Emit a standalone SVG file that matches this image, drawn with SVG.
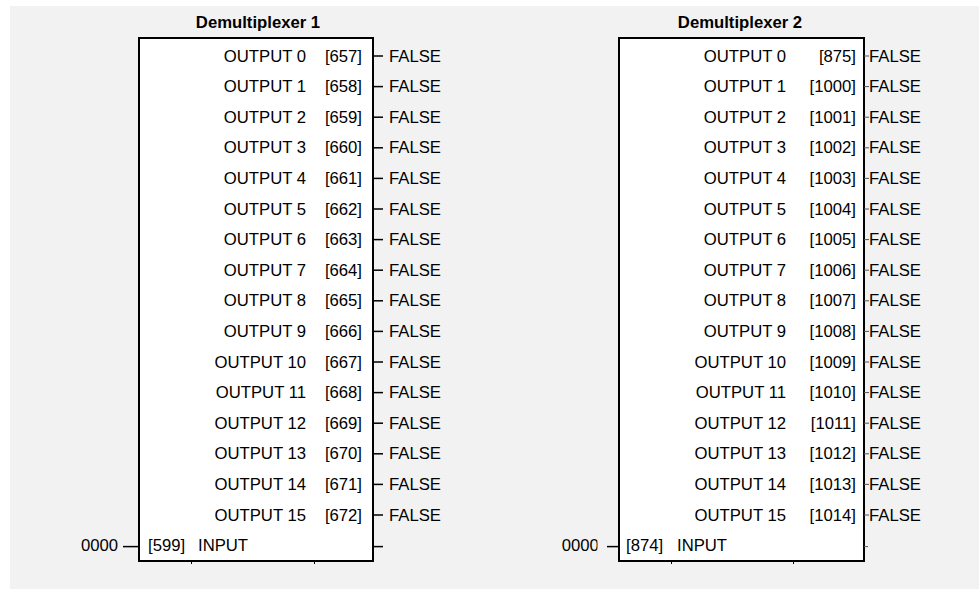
<svg xmlns="http://www.w3.org/2000/svg" width="979" height="589" viewBox="0 0 979 589">
<style>
text{font-family:"Liberation Sans",Arial,sans-serif;font-size:16.7px;fill:#000}
.t{font-weight:bold;text-anchor:middle}
.e{text-anchor:end}
.box{fill:#fff;stroke:#000;stroke-width:2}
.tk{stroke:#000;stroke-width:1.5}
.tk2{stroke:#555;stroke-width:1}
.bt{stroke:#000;stroke-width:1}
</style>
<defs>
<clipPath id="clip0"><rect x="540" y="530" width="57.5" height="30"/></clipPath>
</defs>
<rect x="10" y="6" width="969" height="583" fill="#f2f2f2"/>
<g id="demux1">
<rect class="box" x="139" y="38" width="234" height="523"/>
<text class="t" x="258" y="28">Demultiplexer 1</text>
<g class="lbl">
<text class="e" x="306" y="61.5">OUTPUT 0</text><text class="e" x="362" y="61.5">[657]</text><text x="389" y="61.5">FALSE</text>
<text class="e" x="306" y="92.1">OUTPUT 1</text><text class="e" x="362" y="92.1">[658]</text><text x="389" y="92.1">FALSE</text>
<text class="e" x="306" y="122.7">OUTPUT 2</text><text class="e" x="362" y="122.7">[659]</text><text x="389" y="122.7">FALSE</text>
<text class="e" x="306" y="153.3">OUTPUT 3</text><text class="e" x="362" y="153.3">[660]</text><text x="389" y="153.3">FALSE</text>
<text class="e" x="306" y="183.9">OUTPUT 4</text><text class="e" x="362" y="183.9">[661]</text><text x="389" y="183.9">FALSE</text>
<text class="e" x="306" y="214.5">OUTPUT 5</text><text class="e" x="362" y="214.5">[662]</text><text x="389" y="214.5">FALSE</text>
<text class="e" x="306" y="245.1">OUTPUT 6</text><text class="e" x="362" y="245.1">[663]</text><text x="389" y="245.1">FALSE</text>
<text class="e" x="306" y="275.7">OUTPUT 7</text><text class="e" x="362" y="275.7">[664]</text><text x="389" y="275.7">FALSE</text>
<text class="e" x="306" y="306.3">OUTPUT 8</text><text class="e" x="362" y="306.3">[665]</text><text x="389" y="306.3">FALSE</text>
<text class="e" x="306" y="336.9">OUTPUT 9</text><text class="e" x="362" y="336.9">[666]</text><text x="389" y="336.9">FALSE</text>
<text class="e" x="306" y="367.5">OUTPUT 10</text><text class="e" x="362" y="367.5">[667]</text><text x="389" y="367.5">FALSE</text>
<text class="e" x="306" y="398.1">OUTPUT 11</text><text class="e" x="362" y="398.1">[668]</text><text x="389" y="398.1">FALSE</text>
<text class="e" x="306" y="428.7">OUTPUT 12</text><text class="e" x="362" y="428.7">[669]</text><text x="389" y="428.7">FALSE</text>
<text class="e" x="306" y="459.3">OUTPUT 13</text><text class="e" x="362" y="459.3">[670]</text><text x="389" y="459.3">FALSE</text>
<text class="e" x="306" y="489.9">OUTPUT 14</text><text class="e" x="362" y="489.9">[671]</text><text x="389" y="489.9">FALSE</text>
<text class="e" x="306" y="520.5">OUTPUT 15</text><text class="e" x="362" y="520.5">[672]</text><text x="389" y="520.5">FALSE</text>
<text class="e" x="118" y="551.1">0000</text><text x="148" y="551.1">[599]</text><text x="198" y="551.1">INPUT</text>
</g>
</g>
<g id="demux2">
<rect class="box" x="619" y="38" width="245" height="523"/>
<text class="t" x="740" y="28">Demultiplexer 2</text>
<g class="lbl">
<text class="e" x="786" y="61.5">OUTPUT 0</text><text class="e" x="856" y="61.5">[875]</text><text x="869" y="61.5">FALSE</text>
<text class="e" x="786" y="92.1">OUTPUT 1</text><text class="e" x="856" y="92.1">[1000]</text><text x="869" y="92.1">FALSE</text>
<text class="e" x="786" y="122.7">OUTPUT 2</text><text class="e" x="856" y="122.7">[1001]</text><text x="869" y="122.7">FALSE</text>
<text class="e" x="786" y="153.3">OUTPUT 3</text><text class="e" x="856" y="153.3">[1002]</text><text x="869" y="153.3">FALSE</text>
<text class="e" x="786" y="183.9">OUTPUT 4</text><text class="e" x="856" y="183.9">[1003]</text><text x="869" y="183.9">FALSE</text>
<text class="e" x="786" y="214.5">OUTPUT 5</text><text class="e" x="856" y="214.5">[1004]</text><text x="869" y="214.5">FALSE</text>
<text class="e" x="786" y="245.1">OUTPUT 6</text><text class="e" x="856" y="245.1">[1005]</text><text x="869" y="245.1">FALSE</text>
<text class="e" x="786" y="275.7">OUTPUT 7</text><text class="e" x="856" y="275.7">[1006]</text><text x="869" y="275.7">FALSE</text>
<text class="e" x="786" y="306.3">OUTPUT 8</text><text class="e" x="856" y="306.3">[1007]</text><text x="869" y="306.3">FALSE</text>
<text class="e" x="786" y="336.9">OUTPUT 9</text><text class="e" x="856" y="336.9">[1008]</text><text x="869" y="336.9">FALSE</text>
<text class="e" x="786" y="367.5">OUTPUT 10</text><text class="e" x="856" y="367.5">[1009]</text><text x="869" y="367.5">FALSE</text>
<text class="e" x="786" y="398.1">OUTPUT 11</text><text class="e" x="856" y="398.1">[1010]</text><text x="869" y="398.1">FALSE</text>
<text class="e" x="786" y="428.7">OUTPUT 12</text><text class="e" x="856" y="428.7">[1011]</text><text x="869" y="428.7">FALSE</text>
<text class="e" x="786" y="459.3">OUTPUT 13</text><text class="e" x="856" y="459.3">[1012]</text><text x="869" y="459.3">FALSE</text>
<text class="e" x="786" y="489.9">OUTPUT 14</text><text class="e" x="856" y="489.9">[1013]</text><text x="869" y="489.9">FALSE</text>
<text class="e" x="786" y="520.5">OUTPUT 15</text><text class="e" x="856" y="520.5">[1014]</text><text x="869" y="520.5">FALSE</text>
<text x="561.7" y="551.1" clip-path="url(#clip0)">0000</text><text x="626" y="551.1">[874]</text><text x="677" y="551.1">INPUT</text>
</g>
</g>
<g id="connectors">
<g class="tk">
<line x1="373" y1="56" x2="383" y2="56"/>
<line x1="373" y1="86.6" x2="383" y2="86.6"/>
<line x1="373" y1="117.2" x2="383" y2="117.2"/>
<line x1="373" y1="147.8" x2="383" y2="147.8"/>
<line x1="373" y1="178.4" x2="383" y2="178.4"/>
<line x1="373" y1="209" x2="383" y2="209"/>
<line x1="373" y1="239.6" x2="383" y2="239.6"/>
<line x1="373" y1="270.2" x2="383" y2="270.2"/>
<line x1="373" y1="300.8" x2="383" y2="300.8"/>
<line x1="373" y1="331.4" x2="383" y2="331.4"/>
<line x1="373" y1="362" x2="383" y2="362"/>
<line x1="373" y1="392.6" x2="383" y2="392.6"/>
<line x1="373" y1="423.2" x2="383" y2="423.2"/>
<line x1="373" y1="453.8" x2="383" y2="453.8"/>
<line x1="373" y1="484.4" x2="383" y2="484.4"/>
<line x1="373" y1="515" x2="383" y2="515"/>
<line x1="373" y1="546.6" x2="383" y2="546.6"/>
<line x1="123" y1="546.6" x2="139" y2="546.6"/>
<line x1="607" y1="546.6" x2="619" y2="546.6"/>
</g>
<g class="tk2">
<line x1="864" y1="56" x2="869" y2="56"/>
<line x1="864" y1="86.6" x2="869" y2="86.6"/>
<line x1="864" y1="117.2" x2="869" y2="117.2"/>
<line x1="864" y1="147.8" x2="869" y2="147.8"/>
<line x1="864" y1="178.4" x2="869" y2="178.4"/>
<line x1="864" y1="209" x2="869" y2="209"/>
<line x1="864" y1="239.6" x2="869" y2="239.6"/>
<line x1="864" y1="270.2" x2="869" y2="270.2"/>
<line x1="864" y1="300.8" x2="869" y2="300.8"/>
<line x1="864" y1="331.4" x2="869" y2="331.4"/>
<line x1="864" y1="362" x2="869" y2="362"/>
<line x1="864" y1="392.6" x2="869" y2="392.6"/>
<line x1="864" y1="423.2" x2="869" y2="423.2"/>
<line x1="864" y1="453.8" x2="869" y2="453.8"/>
<line x1="864" y1="484.4" x2="869" y2="484.4"/>
<line x1="864" y1="515" x2="869" y2="515"/>
<line x1="864" y1="546.6" x2="868" y2="546.6"/>
</g>
<g class="bt">
<line x1="191.5" y1="561" x2="191.5" y2="564"/>
<line x1="314.5" y1="561" x2="314.5" y2="564"/>
<line x1="671.5" y1="561" x2="671.5" y2="564"/>
<line x1="793.5" y1="561" x2="793.5" y2="564"/>
</g>
</g>
</svg>
